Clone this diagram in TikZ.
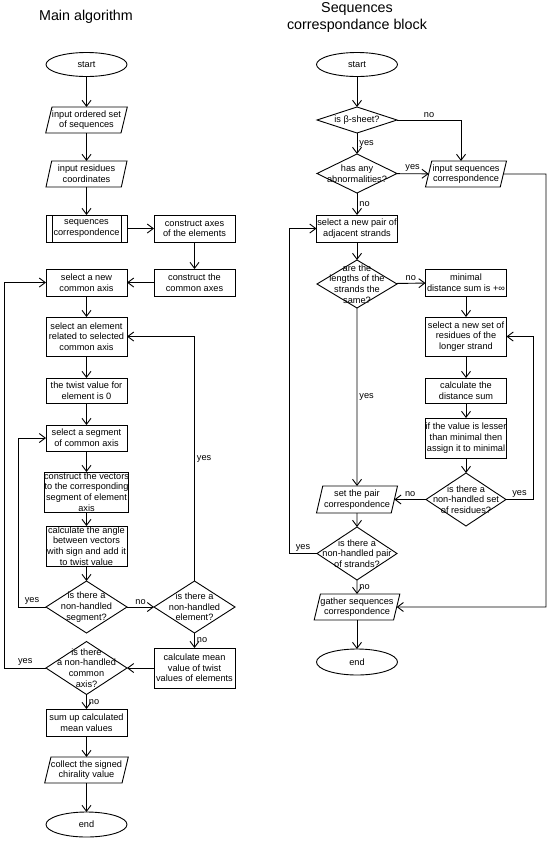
\documentclass[tikz,border=0pt]{standalone}
\usepackage{fontspec}
\setmainfont{Liberation Sans}
\usetikzlibrary{shapes.geometric,arrows.meta}

\tikzset{
  base/.style={draw, line width=0.9pt, minimum width=81pt, inner sep=0pt, outer sep=0pt,
    align=center, font=\fontsize{9.2}{10.7}\selectfont},
  terminal/.style={base, ellipse, minimum height=24pt},
  io/.style={base, trapezium, trapezium left angle=72, trapezium right angle=108,
    trapezium stretches body, minimum height=26pt},
  procbox/.style={base, rectangle, minimum height=27pt},
  decision/.style={base, diamond, minimum height=52pt, inner xsep=-18pt, inner ysep=-11pt},
  title/.style={align=center, font=\fontsize{14.3}{17}\selectfont},
  lbl/.style={font=\fontsize{9.2}{10.7}\selectfont, inner sep=2pt},
  flow/.style={line width=0.9pt, -{Straight Barb[length=6pt,width=9pt]}},
}

\begin{document}
\begin{tikzpicture}[x=1pt, y=-1pt]
\useasboundingbox (0,0) rectangle (550,841);

% titles
\node[title] (ttlMain) at (86,17) {Main algorithm};
\node[title] (ttlBlock) at (357,17.5) {Sequences\\correspondance block};

% main algorithm
\node[terminal] (startA) at (86.5,64.5) {start};
\node[io] (inSeq) at (86.5,120) {input ordered set\\of sequences};
\node[io] (inRes) at (86.5,174) {input residues\\coordinates};
\node[procbox] (seqCorr) at (86.5,228.5) {sequences\\correspondence};
\draw[line width=0.9pt] ([xshift=6pt]seqCorr.north west) -- ([xshift=6pt]seqCorr.south west)
  ([xshift=-6pt]seqCorr.north east) -- ([xshift=-6pt]seqCorr.south east);
\node[procbox] (axElem) at (194.5,228.5) {construct axes\\of the elements};
\node[procbox] (axCommon) at (194.5,282.5) {construct the\\common axes};
\node[procbox] (selAxis) at (86.5,282.5) {select a new\\common axis};
\node[procbox, minimum height=39pt] (selElem) at (86.5,336.5) {select an element\\related to selected\\common axis};
\node[procbox, minimum height=25pt] (twist0) at (86.5,390.5) {the twist value for\\element is 0};
\node[procbox, minimum height=26pt] (selSeg) at (86.5,438) {select a segment\\of common axis};
\node[procbox, minimum height=40pt] (vectors) at (86.5,492) {construct the vectors\\to the corresponding\\segment of element\\axis};
\node[procbox, minimum height=40pt] (angle) at (86.5,546) {calculate the angle\\between vectors\\with sign and add it\\to twist value};
\node[decision] (qSeg) at (86.5,607) {is there a\\non-handled\\segment?};
\node[decision] (qElem) at (194.5,607) {is there a\\non-handled\\element?};
\node[procbox, minimum height=40pt] (mean) at (194.5,668) {calculate mean\\value of twist\\values of elements};
\node[decision, minimum height=53pt] (qAxis) at (86.5,668) {is there\\a non-handled\\common\\axis?};
\node[procbox] (sumUp) at (86.5,722.5) {sum up calculated\\mean values};
\node[io] (collect) at (86.5,770) {collect the signed\\chirality value};
\node[terminal, minimum height=25pt] (endA) at (86.5,824.5) {end};

\coordinate (lpSeg) at (18,607);
\coordinate (lpAxis) at (4.5,668);

\draw[flow] (startA) -- (inSeq);
\draw[flow] (inSeq) -- (inRes);
\draw[flow] (inRes) -- (seqCorr);
\draw[flow] (seqCorr) -- (axElem);
\draw[flow] (axElem) -- (axCommon);
\draw[flow] (axCommon) -- (selAxis);
\draw[flow] (selAxis) -- (selElem);
\draw[flow] (selElem) -- (twist0);
\draw[flow] (twist0) -- (selSeg);
\draw[flow] (selSeg) -- (vectors);
\draw[flow] (vectors) -- (angle);
\draw[flow] (angle) -- (qSeg);
\draw[flow] (qSeg) -- node[lbl, above] (noSeg) {no} (qElem);
\draw[flow] (qSeg.west) -- node[lbl, above] (yesSeg) {yes} (lpSeg) |- (selSeg.west);
\draw[flow] (qElem.north) |- node[lbl, right, pos=.25] (yesElem) {yes} (selElem.east);
\draw[flow] (qElem) -- node[lbl, right] (noElem) {no} (mean);
\draw[flow] (mean) -- (qAxis);
\draw[flow] (qAxis.west) -- node[lbl, above] (yesAxis) {yes} (lpAxis) |- (selAxis.west);
\draw[flow] (qAxis) -- node[lbl, right] (noAxis) {no} (sumUp);
\draw[flow] (sumUp) -- (collect);
\draw[flow] (collect) -- (endA);

% sequences correspondence block
\node[terminal] (startB) at (357,64.5) {start};
\node[decision, minimum width=80pt, minimum height=26pt] (qBeta) at (357,120) {is β-sheet?};
\node[decision, minimum width=80pt, minimum height=39pt] (qAbn) at (357,173.5) {has any\\abnormalities?};
\node[io] (inCorr) at (466,174) {input sequences\\correspondence};
\node[procbox] (selPair) at (357,228.5) {select a new pair of\\adjacent strands};
\node[decision, minimum width=80pt, minimum height=48pt] (qLen) at (357,284) {are the\\lengths of the\\strands the\\same?};
\node[procbox] (minSum) at (466,282.5) {minimal\\distance sum is +∞};
\node[procbox, minimum height=39pt] (selSet) at (466,336.5) {select a new set of\\residues of the\\longer strand};
\node[procbox, minimum height=25pt] (distSum) at (466,390.5) {calculate the\\distance sum};
\node[procbox, minimum height=40pt] (assign) at (466,438) {if the value is lesser\\than minimal then\\assign it to minimal};
\node[decision, minimum width=80pt, minimum height=53pt] (qSet) at (466,499.5) {is there a\\non-handled set\\of residues?};
\node[io, minimum height=27pt] (setPair) at (357,499.5) {set the pair\\correspondence};
\node[decision, minimum width=80pt, minimum height=53pt] (qPair) at (357,553.5) {is there a\\non-handled pair\\of strands?};
\node[io] (gather) at (357,607) {gather sequences\\correspondence};
\node[terminal, minimum height=26pt] (endB) at (357,662) {end};

\coordinate (rtCorr) at (546,174);
\coordinate (lpSet) at (533,499.5);
\coordinate (lpPair) at (289,553.5);

\draw[flow] (startB) -- (qBeta);
\draw[flow] (qBeta.east) -| node[lbl, above, pos=.25] (noBeta) {no} ([xshift=-5pt]inCorr.north);
\draw[flow] (qBeta) -- node[lbl, right] (yesBeta) {yes} (qAbn);
\draw[flow] (qAbn) -- node[lbl, above] (yesAbn) {yes} (inCorr);
\draw[flow] (inCorr.east) -- (rtCorr) |- (gather.east);
\draw[flow] (qAbn) -- node[lbl, right] (noAbn) {no} (selPair);
\draw[flow] (selPair) -- (qLen);
\draw[flow] (qLen) -- node[lbl, above] (noLen) {no} (minSum);
\draw[flow] (minSum) -- (selSet);
\draw[flow] (selSet) -- (distSum);
\draw[flow] (distSum) -- (assign);
\draw[flow] (assign) -- (qSet);
\draw[flow] (qSet.east) -- node[lbl, above] (yesSet) {yes} (lpSet) |- (selSet.east);
\draw[flow] (qSet.west) -- node[lbl, above] (noSet) {no} (setPair.east);
\draw[flow] (qLen) -- node[lbl, right] (yesLen) {yes} (setPair);
\draw[flow] (setPair) -- (qPair);
\draw[flow] (qPair.west) -- node[lbl, above] (yesPair) {yes} (lpPair) |- (selPair.west);
\draw[flow] (qPair) -- node[lbl, right] (noPair) {no} (gather);
\draw[flow] (gather) -- (endB);
\end{tikzpicture}
\end{document}
